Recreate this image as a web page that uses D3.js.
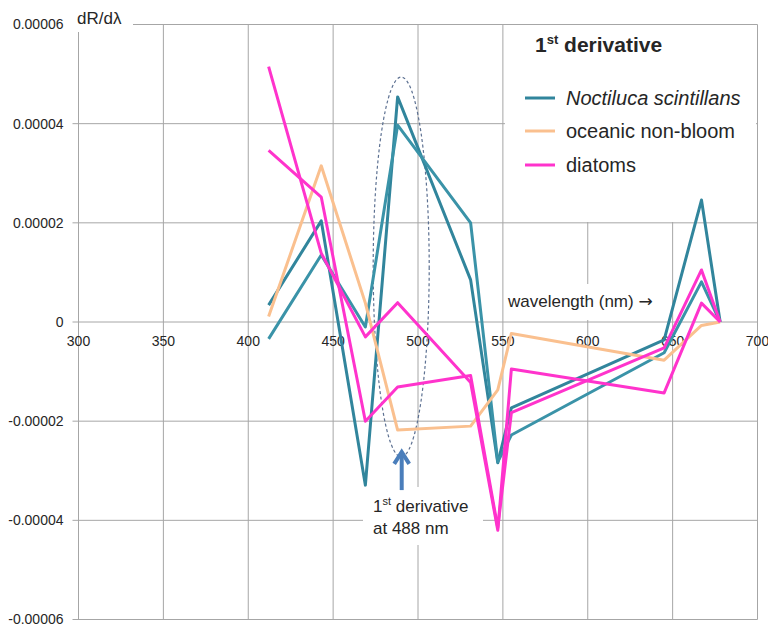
<!DOCTYPE html>
<html>
<head>
<meta charset="utf-8">
<script src="https://cdn.jsdelivr.net/npm/d3@7"></script>
<style>
  body { margin: 0; background: #fff; }
  svg { display: block; font-family: "Liberation Sans", Arial, sans-serif; }
</style>
</head>
<body>
<script>

// wavelengths of the bands (nm)
const wavelengths = [412, 443, 469, 488, 531, 547, 555, 645, 667, 678];

// first derivative dR/dlambda per band
const noctilucaA = [3.4e-6, 2.04e-5, -3.29e-5, 4.54e-5, 8.5e-6, -2.84e-5, -1.73e-5, -3.6e-6, 2.46e-5, 0];
const noctilucaB = [-3.4e-6, 1.35e-5, -1.0e-6, 3.97e-5, 2.0e-5, -2.82e-5, -2.28e-5, -6.2e-6, 8.1e-6, 0];
const oceanic = [1.1e-6, 3.15e-5, 3.8e-6, -2.18e-5, -2.1e-5, -1.37e-5, -2.3e-6, -7.7e-6, -7e-7, 0];
const diatomsA = [5.15e-5, 1.39e-5, -3.0e-6, 3.9e-6, -1.22e-5, -4.2e-5, -9.5e-6, -1.43e-5, 3.8e-6, 0];
const diatomsB = [3.46e-5, 2.52e-5, -2.0e-5, -1.31e-5, -1.08e-5, -4.15e-5, -1.83e-5, -5.2e-6, 1.05e-5, 0];

// axis ticks
const xTicks = [300, 350, 400, 450, 500, 550, 600, 650, 700];
const yTicks = [-0.00006, -0.00004, -0.00002, 0, 0.00002, 0.00004, 0.00006];
const yTickLabels = ["-0.00006", "-0.00004", "-0.00002", "0", "0.00002", "0.00004", "0.00006"];

const legendNames = ["Noctiluca scintillans", "oceanic non-bloom", "diatoms"];

window.onload = function() {

  const w = 768;
  const h = 624;

  const teal = "#31859c";
  const teal2 = "#3a93a8";
  const orange = "#fac08f";
  const pink = "#ff33cc";
  const gridColor = "#a6a6a6";
  const textColor = "#262626";

  const series = [
    {values: noctilucaA, color: teal},
    {values: noctilucaB, color: teal2},
    {values: oceanic, color: orange},
    {values: diatomsA, color: pink},
    {values: diatomsB, color: pink}
  ];

  const x = d3.scaleLinear().domain([300, 700]).range([78.5, 757.5]);
  const y = d3.scaleLinear().domain([-0.00006, 0.00006]).range([619.5, 24.5]);

  const svg = d3.select("body")
    .append("svg")
    .attr("width", w)
    .attr("height", h);

  // gridlines
  svg.append("g")
    .selectAll("line")
    .data(xTicks)
    .enter()
    .append("line")
    .attr("x1", d => x(d)).attr("x2", d => x(d))
    .attr("y1", y(0.00006)).attr("y2", y(-0.00006))
    .attr("stroke", gridColor)
    .attr("stroke-width", 1);

  svg.append("g")
    .selectAll("line")
    .data(yTicks)
    .enter()
    .append("line")
    .attr("x1", x(300) - 6).attr("x2", x(700))
    .attr("y1", d => y(d)).attr("y2", d => y(d))
    .attr("stroke", gridColor)
    .attr("stroke-width", 1);

  // y tick labels
  svg.append("g")
    .selectAll("text")
    .data(yTicks)
    .enter()
    .append("text")
    .attr("x", x(300) - 15)
    .attr("y", d => y(d))
    .attr("dy", "0.35em")
    .attr("text-anchor", "end")
    .attr("font-size", 14)
    .attr("fill", textColor)
    .text((d, i) => yTickLabels[i]);

  // x tick labels sit under the zero line
  svg.append("g")
    .selectAll("text")
    .data(xTicks)
    .enter()
    .append("text")
    .attr("x", d => x(d))
    .attr("y", y(0) + 24)
    .attr("text-anchor", "middle")
    .attr("font-size", 14)
    .attr("fill", textColor)
    .text(d => d);

  // white boxes behind the labels
  svg.append("rect").attr("x", 72).attr("y", 6).attr("width", 61).attr("height", 26).attr("fill", "#fff");
  svg.append("rect").attr("x", 505).attr("y", 25).attr("width", 251).attr("height", 197).attr("fill", "#fff");
  svg.append("rect").attr("x", 505).attr("y", 284).attr("width", 160).attr("height", 36).attr("fill", "#fff");
  svg.append("rect").attr("x", 363).attr("y", 487).attr("width", 120).attr("height", 58).attr("fill", "#fff");

  svg.append("text")
    .attr("x", 77).attr("y", 24)
    .attr("font-size", 17)
    .attr("fill", textColor)
    .text("dR/dλ");

  const wl = svg.append("text")
    .attr("x", 508).attr("y", 307)
    .attr("font-size", 17)
    .attr("fill", textColor);
  wl.append("tspan").text("wavelength (nm) ");
  wl.append("tspan").attr("font-family", "DejaVu Sans").text("→");

  // dashed ellipse around 488 nm
  svg.append("ellipse")
    .attr("cx", x(490.1))
    .attr("cy", y(0.0000111))
    .attr("rx", x(490.1 + 16.5) - x(490.1))
    .attr("ry", y(0) - y(0.0000383))
    .attr("fill", "none")
    .attr("stroke", "#5d7192")
    .attr("stroke-width", 1.2)
    .attr("stroke-dasharray", "3,2.5");

  // lines
  const line = d3.line()
    .x((d, i) => x(wavelengths[i]))
    .y(d => y(d));

  svg.append("g")
    .selectAll("path")
    .data(series)
    .enter()
    .append("path")
    .attr("d", d => line(d.values))
    .attr("fill", "none")
    .attr("stroke", d => d.color)
    .attr("stroke-width", 3)
    .attr("stroke-linejoin", "round");

  // arrow pointing at the ellipse
  const ax = x(490.4);
  const tipY = y(-0.0000258);
  svg.append("line")
    .attr("x1", ax).attr("x2", ax)
    .attr("y1", y(-0.0000339)).attr("y2", tipY + 2)
    .attr("stroke", "#4a7ebb")
    .attr("stroke-width", 4);
  svg.append("path")
    .attr("d", "M" + (ax - 7.5) + "," + (tipY + 14) + "L" + ax + "," + (tipY + 2) + "L" + (ax + 7.5) + "," + (tipY + 14))
    .attr("fill", "none")
    .attr("stroke", "#4a7ebb")
    .attr("stroke-width", 4)
    .attr("stroke-linejoin", "miter");

  // annotation text
  const note = svg.append("text")
    .attr("x", 373).attr("y", 512)
    .attr("font-size", 17)
    .attr("fill", textColor);
  note.append("tspan").text("1");
  note.append("tspan").attr("font-size", 11).attr("dy", -7).text("st");
  note.append("tspan").attr("dy", 7).text(" derivative");

  svg.append("text")
    .attr("x", 373).attr("y", 534)
    .attr("font-size", 17)
    .attr("fill", textColor)
    .text("at 488 nm");

  // legend
  const title = svg.append("text")
    .attr("x", 535).attr("y", 52)
    .attr("font-size", 21)
    .attr("font-weight", "bold")
    .attr("fill", textColor);
  title.append("tspan").text("1");
  title.append("tspan").attr("font-size", 13).attr("dy", -8).text("st");
  title.append("tspan").attr("dy", 8).text(" derivative");

  const legendColors = [teal, orange, pink];
  const legendY = [98, 131, 165];

  const items = svg.append("g")
    .selectAll("g")
    .data(legendNames)
    .enter()
    .append("g");

  items.append("line")
    .attr("x1", 525).attr("x2", 555)
    .attr("y1", (d, i) => legendY[i]).attr("y2", (d, i) => legendY[i])
    .attr("stroke", (d, i) => legendColors[i])
    .attr("stroke-width", 3);

  items.append("text")
    .attr("x", 566)
    .attr("y", (d, i) => legendY[i] + 6.5)
    .attr("font-size", 20)
    .attr("font-style", (d, i) => i == 0 ? "italic" : "normal")
    .attr("fill", textColor)
    .text(d => d);
};
</script>
</body>
</html>
